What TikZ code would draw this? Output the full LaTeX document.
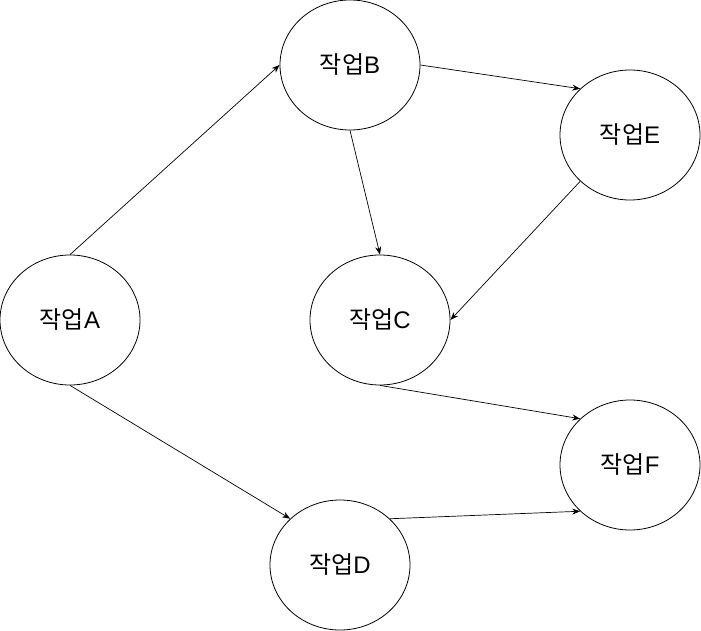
\documentclass[tikz,border=0pt]{standalone}
\usepackage{fontspec}
\setmainfont{Liberation Sans}
\newfontfamily\kr{Noto Sans CJK KR}
\usetikzlibrary{shapes.geometric,arrows.meta}
\newcommand{\job}[1]{{\kr 작업}#1}
\begin{document}
\begin{tikzpicture}[x=1pt,y=-1pt,
  task/.style={draw, ellipse, line width=0.8pt, minimum width=140pt, minimum height=130pt, inner sep=0pt, font=\fontsize{24}{28}\selectfont},
  link/.style={line width=0.7pt, -{Stealth[length=8pt,width=6pt]}}]
\useasboundingbox (0,0) rectangle (701,631);
\node[task] (A) at (70,320) {\job{A}};
\node[task] (B) at (350,65) {\job{B}};
\node[task] (E) at (630,135) {\job{E}};
\node[task] (C) at (380,320) {\job{C}};
\node[task] (F) at (630,465) {\job{F}};
\node[task] (D) at (340,565) {\job{D}};
\draw[link] (A.north) -- (B.west);
\draw[link] (B.east) -- (E.north west);
\draw[link] (B.south) -- (C.north);
\draw[link] (E.south west) -- (C.east);
\draw[link] (C.south) -- (F.north west);
\draw[link] (A.south) -- (D.north west);
\draw[link] (D.north east) -- (F.south west);
\end{tikzpicture}
\end{document}
